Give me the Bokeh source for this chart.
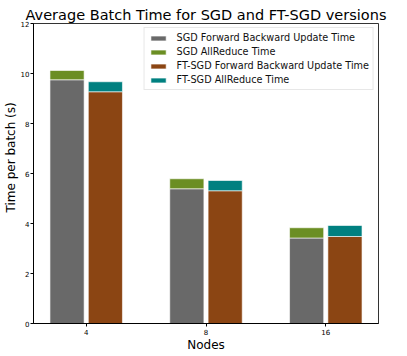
from bokeh.plotting import figure
from bokeh.models import ColumnDataSource, FixedTicker, Range1d, Legend, LegendItem, Title
from bokeh.embed import file_html
from bokeh.resources import INLINE

nodes = ["4", "8", "16"]
sgd_fbu = [9.75, 5.39, 3.42]
sgd_allreduce = [0.37, 0.40, 0.41]
ft_fbu = [9.27, 5.31, 3.48]
ft_allreduce = [0.40, 0.41, 0.44]
y_ticks = [0, 2, 4, 6, 8, 10, 12]

idx = list(range(len(nodes)))
w = 0.285
off = 0.16
src = ColumnDataSource(dict(
    xs=[i - off for i in idx],
    xf=[i + off for i in idx],
    sgd_fbu=sgd_fbu,
    sgd_top=[a + b for a, b in zip(sgd_fbu, sgd_allreduce)],
    ft_fbu=ft_fbu,
    ft_top=[a + b for a, b in zip(ft_fbu, ft_allreduce)],
))

p = figure(width=391, height=355, output_backend="svg", toolbar_location=None,
           x_range=Range1d(-0.44, 2.44), y_range=Range1d(0, 12),
           min_border_left=33, min_border_right=13, min_border_bottom=32, min_border_top=23)

edge = dict(line_color="white", line_alpha=0.6, line_width=1)
r1 = p.vbar(x="xs", bottom=0, top="sgd_fbu", width=w, source=src, fill_color="#696969", **edge)
r2 = p.vbar(x="xs", bottom="sgd_fbu", top="sgd_top", width=w, source=src, fill_color="#6B8E23", **edge)
r3 = p.vbar(x="xf", bottom=0, top="ft_fbu", width=w, source=src, fill_color="#8B4513", **edge)
r4 = p.vbar(x="xf", bottom="ft_fbu", top="ft_top", width=w, source=src, fill_color="#008080", **edge)

legend = Legend(items=[
    LegendItem(label="SGD Forward Backward Update Time", renderers=[r1]),
    LegendItem(label="SGD AllReduce Time", renderers=[r2]),
    LegendItem(label="FT-SGD Forward Backward Update Time", renderers=[r3]),
    LegendItem(label="FT-SGD AllReduce Time", renderers=[r4]),
], location="top_right")
legend.label_text_font = "DejaVu Sans"
legend.label_text_font_size = "9.7px"
legend.label_text_color = "#111111"
legend.glyph_width = 19
legend.glyph_height = 6
legend.label_height = 6
legend.label_standoff = 9
legend.spacing = 3
legend.padding = 4
legend.margin = 4
legend.border_line_color = "#d0d0d0"
legend.border_line_width = 1
legend.background_fill_alpha = 0.9
p.add_layout(legend, "center")

p.title.text = "Average Batch Time for SGD and FT-SGD versions"
p.title.text_font = "DejaVu Sans"
p.title.text_font_size = "14.5px"
p.title.text_font_style = "normal"
p.title.text_color = "black"
p.title.align = "center"
p.title.standoff = 1

p.xaxis.ticker = FixedTicker(ticks=idx)
p.xaxis.major_label_overrides = {i: n for i, n in zip(idx, nodes)}
p.yaxis.ticker = FixedTicker(ticks=y_ticks)
p.xaxis.axis_label = "Nodes"
p.xaxis.axis_label_text_font = "DejaVu Sans"
p.xaxis.axis_label_text_font_size = "12px"
p.xaxis.axis_label_text_font_style = "normal"
p.xaxis.axis_label_text_color = "black"
p.xaxis.axis_label_standoff = 0
for ax in (p.xaxis, p.yaxis):
    ax.major_label_text_font = "DejaVu Sans"
    ax.major_label_text_font_size = "7px"
    ax.major_label_text_color = "black"
    ax.major_tick_out = 3
    ax.major_tick_in = 0
    ax.minor_tick_out = 0
    ax.minor_tick_in = 0
    ax.major_label_standoff = 2
    ax.axis_line_color = "black"
    ax.major_tick_line_color = "black"
p.yaxis.major_label_standoff = 1

ylab = Title(text="Time per batch (s)", align="left", offset=111, standoff=0,
             text_font="DejaVu Sans", text_font_size="12px", text_font_style="normal",
             text_color="black")
p.add_layout(ylab, "left")

p.grid.visible = False
p.outline_line_color = "black"
p.outline_line_alpha = 0.8

open("out.html", "w").write(file_html(p, INLINE))
